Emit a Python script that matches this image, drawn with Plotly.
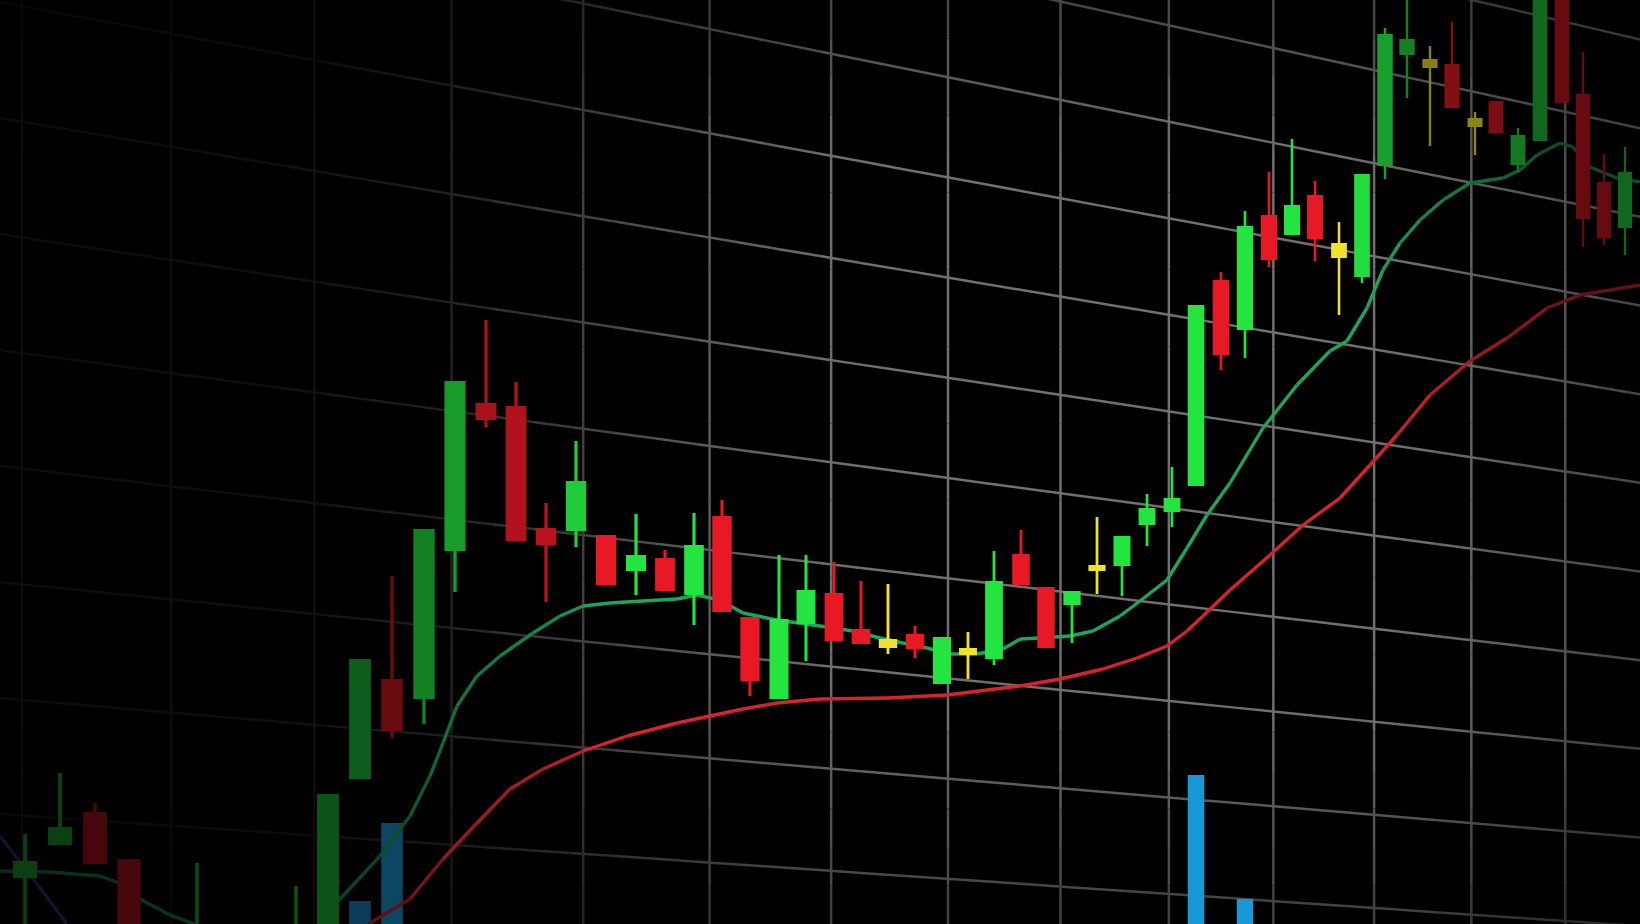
import math
import numpy as np
import plotly.graph_objects as go

W, H = 1640, 924

# ---------------- data ----------------
# screen time position of each candle and its prices (chart units)
t = [25, 60, 95, 129, 197, 296, 328, 360, 392, 424, 455, 486, 516, 546, 576, 606, 636, 665, 694, 722,
     750, 779, 806, 834, 861, 888, 915, 942, 968, 994, 1021, 1046, 1072, 1097, 1122, 1147, 1172, 1196,
     1221, 1245, 1269, 1292, 1315, 1339, 1362, 1385, 1407, 1430, 1452, 1475, 1496, 1518, 1540, 1562,
     1583, 1604, 1625]
open_ = [46, 79, 112, 65, -61, -66, -66, 145, 245, 225, 373, 521, 518, 396, 393, 389, 353, 366, 329, 408,
         307, 225, 300, 331, 295, 276, 290, 240, 269, 265, 370, 337, 319, 353, 358, 399, 412, 438,
         644, 594, 709, 689, 729, 666, 647, 758, 869, 856, 860, 797, 823, 759, 783, 944,
         830, 742, 696]
high = [90, 151, 121, 65, 61, 38, 130, 265, 348, 395, 543, 604, 542, 421, 483, 389, 410, 374, 411, 424,
        307, 369, 369, 362, 343, 340, 298, 287, 292, 373, 394, 337, 333, 407, 388, 430, 457, 619,
        652, 713, 752, 785, 743, 702, 750, 896, 934, 878, 902, 812, 823, 796, 950, 950,
        872, 770, 777]
low = [-6, 79, 60, -30, -66, -70, -70, 145, 186, 200, 332, 497, 383, 322, 377, 339, 329, 333, 299, 312,
       228, 225, 263, 283, 280, 270, 266, 240, 245, 259, 339, 276, 281, 330, 328, 378, 397, 438,
       554, 566, 657, 689, 663, 609, 641, 745, 826, 778, 816, 769, 791, 752, 783, 821,
       677, 679, 669]
close = [63, 97, 60, -26, -11, -11, 130, 265, 193, 395, 543, 504, 383, 379, 443, 339, 369, 333, 379, 312,
         243, 305, 334, 283, 280, 285, 275, 287, 276, 343, 339, 276, 333, 359, 388, 416, 426, 619,
         569, 698, 664, 719, 685, 681, 750, 890, 885, 865, 816, 806, 791, 789, 944, 821,
         705, 686, 752]
# g = rising, r = falling, y = indecision (doji)
tone = ['g', 'g', 'r', 'r', 'g', 'g', 'g', 'g', 'r', 'g', 'g', 'r', 'r', 'r', 'g', 'r', 'g', 'r', 'g', 'r',
        'r', 'g', 'g', 'r', 'r', 'y', 'r', 'g', 'y', 'g', 'r', 'r', 'g', 'y', 'g', 'g', 'g', 'g',
        'r', 'g', 'r', 'g', 'r', 'y', 'g', 'g', 'g', 'y', 'r', 'y', 'r', 'g', 'g', 'r',
        'r', 'r', 'g']

# fast moving average (green)
ma_fast_t = [0, 50, 100, 125, 140, 170, 200, 260, 320, 340, 380, 410, 430, 443, 457, 477, 500, 533, 560,
             583, 610, 643, 677, 697, 720, 743, 777, 820, 853, 880, 903, 927, 950, 977, 1003, 1020,
             1040, 1070, 1093, 1120, 1140, 1167, 1187, 1207, 1230, 1263, 1297, 1330, 1347, 1367,
             1383, 1400, 1420, 1443, 1470, 1503, 1520, 1537, 1560, 1573, 1590, 1617, 1640]
ma_fast = [53, 52, 48, 39, 25, 9, -2, -26, -6, 25, 68, 108, 148, 181, 218, 248, 268, 291, 308,
           318, 321, 323, 325, 329, 324, 311, 304, 298, 293, 286, 281, 276, 270, 270, 275, 285,
           286, 288, 293, 308, 323, 344, 376, 409, 441, 496, 539, 573, 583, 616,
           654, 681, 704, 724, 741, 746, 754, 769, 781, 777, 757, 746, 742]
# slow moving average (red)
ma_slow_t = [340, 370, 410, 443, 477, 510, 543, 583, 627, 677, 710, 743, 777, 820, 887, 947, 987, 1020,
             1060, 1103, 1137, 1167, 1187, 1203, 1230, 1270, 1303, 1340, 1370, 1397, 1430, 1470,
             1507, 1547, 1580, 1640]
ma_slow = [-26, 1, 25, 65, 101, 135, 155, 173, 188, 201, 208, 215, 221, 225, 226, 229, 234, 238,
           245, 255, 266, 278, 293, 308, 334, 369, 399, 426, 459, 489, 529, 563,
           586, 616, 629, 639]
# faint signal line (far left)
ma_sig_t = [0, 34, 67, 90]
ma_sig = [88, 44, 0, -31]
# visible volume bars
vol_t = [360, 392, 1196, 1245]
vol = [23, 101, 149, 25]

# ---------------- styling helpers ----------------
XV, YV = 6960.0, 1290.0          # perspective vanishing point (screen px)


def rgb(c, b):
    return "rgb(%d,%d,%d)" % tuple(max(0, min(255, round(v * b))) for v in c)


def f_top(x, yp, d0, span, lo):
    d = math.hypot(max(0.0, x - 1250.0), max(0.0, 300.0 - yp))
    return min(1.0, max(lo, 1.0 - (d - d0) / span))


def light_mark(x, price):
    yp = H - price
    fx = float(np.interp(x, [0, 330, 400, 460, 560, 600, 1640], [0.27, 0.36, 0.47, 0.7, 0.82, 1, 1]))
    return fx * f_top(x, yp, 120, 400, 0.45)


def light_grid(x, yp):
    fx = float(np.interp(x, [0, 300, 450, 580, 710, 850, 1640], [0.1, 0.14, 0.3, 0.56, 0.8, 1, 1]))
    fy = float(np.interp(yp, [0, 150, 700, 924], [0.8, 1, 1, 0.55]))
    return fx * fy * f_top(x, yp, 150, 600, 0.6)


GRID = (112, 112, 112)
shapes = []
# receding horizontal grid lines
for k in range(-3, 8):
    y0 = 2 + 116 * k
    xs = np.linspace(0, W, 41)
    ys = [y0 + (YV - y0) * x / XV for x in xs]
    for i in range(len(xs) - 1):
        xm, ym = (xs[i] + xs[i + 1]) / 2, (ys[i] + ys[i + 1]) / 2
        shapes.append(dict(type="line", xref="x", yref="y", layer="below",
                           x0=xs[i], x1=xs[i + 1], y0=H - ys[i], y1=H - ys[i + 1],
                           line=dict(color=rgb(GRID, light_grid(xm, ym)), width=2.5)))
# vertical grid lines (spacing shrinking with depth)
for j in range(14):
    xj = XV - 1.0 / (144.13e-6 + 3.172e-6 * j)
    yy = np.linspace(0, H, 25)
    for i in range(len(yy) - 1):
        ym = (yy[i] + yy[i + 1]) / 2
        shapes.append(dict(type="line", xref="x", yref="y", layer="below",
                           x0=xj, x1=xj, y0=H - yy[i], y1=H - yy[i + 1],
                           line=dict(color=rgb(GRID, light_grid(xj, ym)), width=2.5)))

fig = go.Figure()

# volume bars
VOL_C = (24, 152, 215)
vw = [24.2 * ((XV - x) / XV) ** 2 for x in vol_t]
fig.add_trace(go.Bar(x=vol_t, y=vol, width=vw,
                     marker=dict(color=[rgb(VOL_C, light_mark(x, 60)) for x in vol_t], line=dict(width=0)),
                     hoverinfo="skip"))


def add_line(xs, ys, base, width):
    for i in range(len(xs) - 1):
        b = light_mark((xs[i] + xs[i + 1]) / 2, (ys[i] + ys[i + 1]) / 2)
        fig.add_trace(go.Scatter(x=[xs[i], xs[i + 1]], y=[ys[i], ys[i + 1]], mode="lines",
                                 line=dict(color=rgb(base, b), width=width), hoverinfo="skip"))


add_line(ma_sig_t, ma_sig, (50, 80, 170), 3)
add_line(ma_slow_t, ma_slow, (215, 35, 45), 3.4)
add_line(ma_fast_t, ma_fast, (30, 165, 90), 3.4)

# candles (drawn on an overlaid pair of axes so they sit above the averages)
BASE = {"g": (36, 228, 64), "r": (232, 24, 36), "y": (240, 226, 40)}
body_w = [24.2 * ((XV - x) / XV) ** 2 for x in t]
wick_w = [max(2.2, w * 0.16) for w in body_w]
cols = [rgb(BASE[k], light_mark(x, (o + c) / 2)) for x, o, c, k in zip(t, open_, close, tone)]

fig.add_trace(go.Bar(x=t, base=low, y=[h - l for h, l in zip(high, low)], width=wick_w,
                     marker=dict(color=cols, line=dict(width=0)), xaxis="x2", yaxis="y2", hoverinfo="skip"))
fig.add_trace(go.Bar(x=t, base=[min(o, c) for o, c in zip(open_, close)],
                     y=[max(abs(c - o), 2) for o, c in zip(open_, close)], width=body_w,
                     marker=dict(color=cols, line=dict(width=0)), xaxis="x2", yaxis="y2", hoverinfo="skip"))

fig.update_layout(
    width=W, height=H, margin=dict(l=0, r=0, t=0, b=0),
    paper_bgcolor="black", plot_bgcolor="black", showlegend=False, barmode="overlay",
    xaxis=dict(range=[0, W], visible=False, fixedrange=True),
    yaxis=dict(range=[0, H], visible=False, fixedrange=True),
    xaxis2=dict(range=[0, W], visible=False, overlaying="x", fixedrange=True),
    yaxis2=dict(range=[0, H], visible=False, overlaying="y", fixedrange=True),
    shapes=shapes,
)

fig.write_html("out.html", config={"displayModeBar": False},
               post_script="document.body.style.margin='0';")
